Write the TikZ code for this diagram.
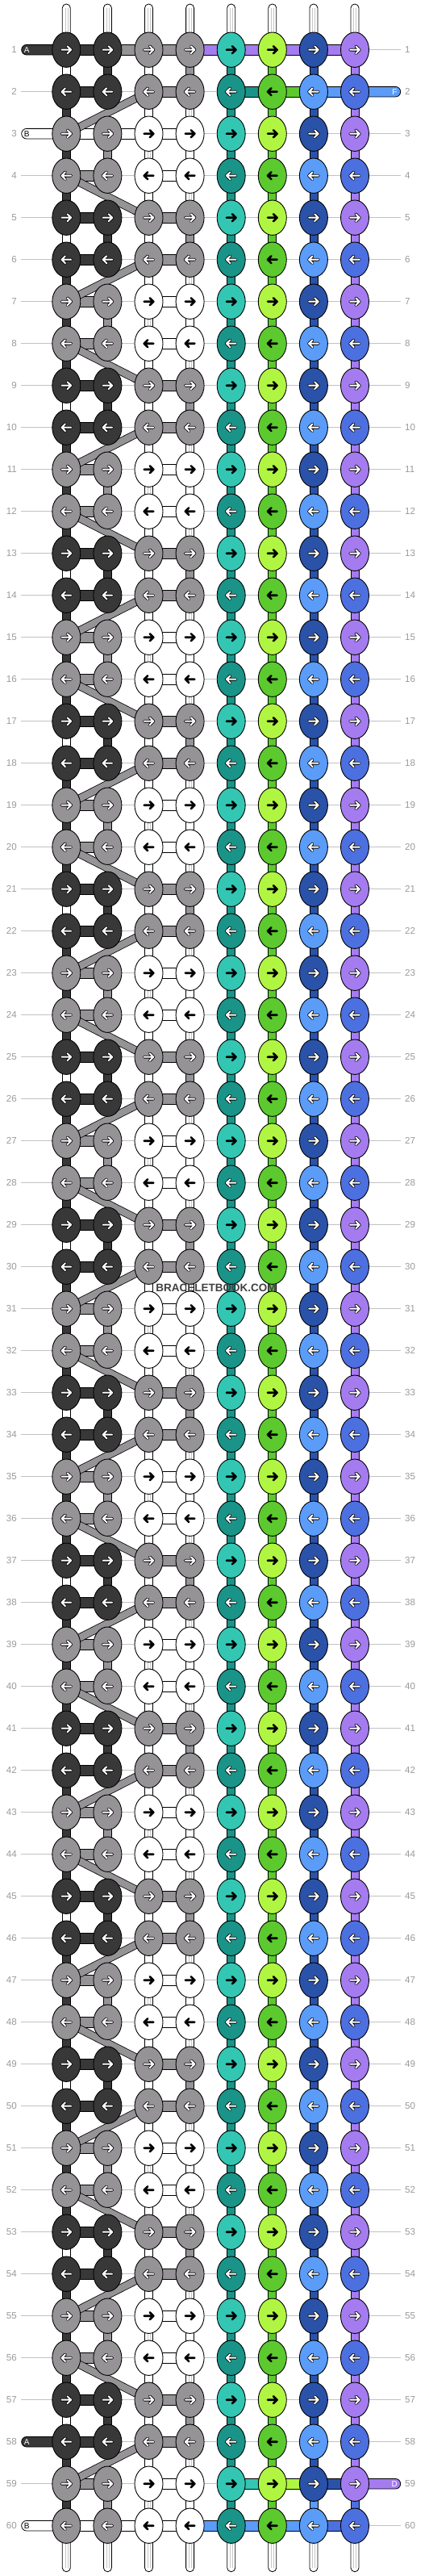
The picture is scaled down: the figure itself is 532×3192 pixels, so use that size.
\documentclass[tikz,border=0pt]{standalone}
\usepackage{fontspec}
\setmainfont{Liberation Sans}
\usetikzlibrary{calc,shapes.geometric}

\definecolor{dk}{HTML}{383838}
\definecolor{gy}{HTML}{959396}
\definecolor{lteal}{HTML}{33C6B3}
\definecolor{dteal}{HTML}{1A9488}
\definecolor{lime}{HTML}{B0F542}
\definecolor{grn}{HTML}{5CC92E}
\definecolor{navy}{HTML}{2A52A8}
\definecolor{lblue}{HTML}{5A9CF8}
\definecolor{blu}{HTML}{4D70E0}
\definecolor{purp}{HTML}{A57CF0}
\definecolor{guideline}{HTML}{C2C2C2}
\definecolor{numgray}{HTML}{9A9A9A}

\def\hconn[#1](#2)(#3){\draw[hbar, fill=#1] ($(#2)+(0,-6.3)$) rectangle ($(#3)+(0,6.3)$);}
\def\vconn[#1](#2)(#3){\draw[vbar, fill=#1] ($(#2)+(-5,0)$) rectangle ($(#3)+(5,0)$);}
\def\vtwin(#1)(#2){\vconn[white](#1)(#2)\draw[twin] ($(#1)+(-1.4,0)$) -- ($(#2)+(-1.4,0)$) ($(#1)+(1.6,0)$) -- ($(#2)+(1.6,0)$);}
\def\arrowpath{(-5.8,0) -- (5.8,0) (1.3,-4.4) -- (5.8,0) -- (1.3,4.4)}
\def\warrow(#1)(#2){\draw[arrout, shift={(#1)}, xscale=#2] \arrowpath; \draw[arrin, shift={(#1)}, xscale=#2] \arrowpath;}
\def\barrow(#1)(#2){\draw[arrblk, shift={(#1)}, xscale=#2] \arrowpath;}

\begin{document}
\begin{tikzpicture}[x=1pt, y=-1pt,
  knot/.style={ellipse, draw=black, line width=0.9, minimum width=35, minimum height=43.4, inner sep=0},
  hbar/.style={draw=black, line width=0.8},
  vbar/.style={draw=black, line width=0.8},
  twin/.style={draw=gray!45, line width=0.5},
  stub/.style={draw=black, fill=white, line width=0.8, rounded corners=4.9},
  diag/.style={draw=black, line width=0.8, double=gy, double distance=8.4},
  tend/.style={draw=black, line width=0.8, rounded corners=6.3},
  endlbl/.style={font=\fontsize{10}{10}\selectfont, inner sep=0},
  arrout/.style={black, line width=3.7, line cap=round, line join=round},
  arrin/.style={white, line width=2.0, line cap=round, line join=round},
  arrblk/.style={black, line width=2.6, line cap=round, line join=round},
  guide/.style={guideline, line width=1},
  rownum/.style={text=numgray, font=\fontsize{11.6}{12}\selectfont, inner sep=0},
  wmark/.style={text=black!75, font=\bfseries\fontsize{13.5}{14}\selectfont, inner sep=0}]
  %%%%% START %%%%%
  \useasboundingbox (0,0) rectangle (532,3192);

  % knot grid
  \foreach \r in {1,...,60}
    \foreach \c in {1,...,8}
      \coordinate (k-\r-\c) at ({82.3+51.1*(\c-1)},{61.7+52*(\r-1)});

  % row guides and numbers
  \foreach \r in {1,...,60}{
    \draw[guide] ($(k-\r-1)+(-56.3,0)$) -- ($(k-\r-8)+(56.7,0)$);
    \node[rownum, anchor=east] (ln-\r) at ($(k-\r-1)+(-61.3,0)$) {\r};
    \node[rownum, anchor=west] (rn-\r) at ($(k-\r-8)+(62,0)$) {\r};
  }

  % loose thread ends, top and bottom
  \foreach \c in {1,...,8}{
    \draw[stub] ($(k-1-\c)+(-5,-56.7)$) rectangle ($(k-1-\c)+(5,10)$);
    \draw[twin] ($(k-1-\c)+(-1.4,-52)$) -- ($(k-1-\c)+(-1.4,0)$) ($(k-1-\c)+(1.6,-52)$) -- ($(k-1-\c)+(1.6,0)$);
    \draw[stub] ($(k-60-\c)+(-5,-10)$) rectangle ($(k-60-\c)+(5,57)$);
    \draw[twin] ($(k-60-\c)+(-1.4,0)$) -- ($(k-60-\c)+(-1.4,52)$) ($(k-60-\c)+(1.6,0)$) -- ($(k-60-\c)+(1.6,52)$);
  }

  % vertical strings
  \foreach \r in {1,...,59}{
    \pgfmathtruncatemacro\s{\r+1}
    \pgfmathtruncatemacro\m{mod(\r,4)}
    \ifnum\m=1 \vconn[white](k-\r-1)(k-\s-1) \else \vconn[dk](k-\r-1)(k-\s-1) \fi
    \ifnum\m=1 \vconn[dk](k-\r-2)(k-\s-2) \fi
    \ifnum\m=3 \vconn[gy](k-\r-2)(k-\s-2) \fi
    \ifnum\m=3 \vtwin(k-\r-3)(k-\s-3) \else \vconn[white](k-\r-3)(k-\s-3) \fi
    \ifnum\m=1 \vconn[gy](k-\r-4)(k-\s-4) \else \ifnum\m=3 \vconn[white](k-\r-4)(k-\s-4) \else \vtwin(k-\r-4)(k-\s-4) \fi\fi
    \vconn[dteal](k-\r-5)(k-\s-5)
    \vconn[grn](k-\r-6)(k-\s-6)
    \ifnum\r=59 \vconn[lblue](k-\r-7)(k-\s-7) \vconn[blu](k-\r-8)(k-\s-8)
    \else \vconn[navy](k-\r-7)(k-\s-7) \vconn[purp](k-\r-8)(k-\s-8) \fi
  }

  % horizontal strings
  \foreach \r in {1,...,60}{
    \pgfmathtruncatemacro\m{mod(\r,4)}
    \pgfmathtruncatemacro\hi{(\m==1)||(\m==2)}
    \ifnum\hi=1 \hconn[dk](k-\r-1)(k-\r-2) \hconn[gy](k-\r-3)(k-\r-4)
    \else \hconn[gy](k-\r-1)(k-\r-2) \hconn[white](k-\r-3)(k-\r-4) \fi
  }
  \hconn[gy](k-1-2)(k-1-3)
  \hconn[purp](k-1-4)(k-1-8)
  \hconn[dteal](k-2-5)(k-2-6)
  \hconn[grn](k-2-6)(k-2-7)
  \hconn[lblue](k-2-7)(k-2-8)
  \hconn[white](k-3-1)(k-3-3)
  \hconn[lteal](k-59-5)(k-59-6)
  \hconn[lime](k-59-6)(k-59-7)
  \hconn[navy](k-59-7)(k-59-8)
  \hconn[white](k-60-1)(k-60-3)
  \hconn[lblue](k-60-4)(k-60-7)
  \hconn[blu](k-60-7)(k-60-8)

  % threads entering and leaving at the sides
  \draw[tend, fill=dk] ($(k-1-1)+(-55.6,-6.3)$) rectangle ($(k-1-1)+(0,6.3)$);
  \node[endlbl, text=white] (end-a1) at ($(k-1-1)+(-49,0)$) {A};
  \draw[tend, fill=white] ($(k-3-1)+(-55.6,-6.3)$) rectangle ($(k-3-1)+(0,6.3)$);
  \node[endlbl] (end-b3) at ($(k-3-1)+(-49,0)$) {B};
  \draw[tend, fill=dk] ($(k-58-1)+(-55.6,-6.3)$) rectangle ($(k-58-1)+(0,6.3)$);
  \node[endlbl, text=white] (end-a58) at ($(k-58-1)+(-49,0)$) {A};
  \draw[tend, fill=white] ($(k-60-1)+(-55.6,-6.3)$) rectangle ($(k-60-1)+(0,6.3)$);
  \node[endlbl] (end-b60) at ($(k-60-1)+(-49,0)$) {B};
  \draw[tend, fill=lblue] ($(k-2-8)+(0,-6.3)$) rectangle ($(k-2-8)+(56.7,6.3)$);
  \node[endlbl, text=white] (end-f2) at ($(k-2-8)+(49.3,0)$) {F};
  \draw[tend, fill=purp] ($(k-59-8)+(0,-6.3)$) rectangle ($(k-59-8)+(56.7,6.3)$);
  \node[endlbl, text=white] (end-d59) at ($(k-59-8)+(49.3,0)$) {D};

  % crossing strands
  \foreach \r in {2,6,...,58}{
    \pgfmathtruncatemacro\s{\r+1}
    \draw[diag] (k-\r-3) -- (k-\s-1);
  }
  \foreach \r in {4,8,...,56}{
    \pgfmathtruncatemacro\s{\r+1}
    \draw[diag] (k-\r-1) -- (k-\s-3);
  }

  % knots
  \foreach \r in {1,...,60}{
    \pgfmathtruncatemacro\m{mod(\r,4)}
    \pgfmathtruncatemacro\hi{(\m==1)||(\m==2)}
    \pgfmathtruncatemacro\dir{2*mod(\r,2)-1}
    \ifnum\hi=1 \def\ca{dk}\def\cb{gy}\def\tb{w}\else \def\ca{gy}\def\cb{white}\def\tb{b}\fi
    \ifodd\r \def\rest{lteal/b,lime/b,navy/w,purp/w}\else \def\rest{dteal/w,grn/b,lblue/w,blu/w}\fi
    \edef\allknots{\ca/w,\ca/w,\cb/\tb,\cb/\tb,\rest}
    \foreach \cc/\ak [count=\c] in \allknots{
      \node[knot, fill=\cc] (n-\r-\c) at (k-\r-\c) {};
      \if\ak w\warrow(k-\r-\c)(\dir)\else\barrow(k-\r-\c)(\dir)\fi
    }
  }

  \node[wmark] (wm) at (268,1595.7) {BRACELETBOOK.COM};
  %%%%% END %%%%%
\end{tikzpicture}
\end{document}
